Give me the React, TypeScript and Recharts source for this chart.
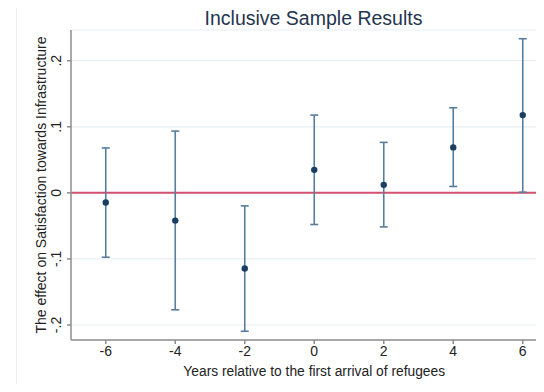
import { CartesianGrid, ComposedChart, ErrorBar, ReferenceLine, Scatter, XAxis, YAxis } from "recharts"

const years = [-6, -4, -2, 0, 2, 4, 6]
const estimates = [-0.0145, -0.042, -0.1145, 0.0348, 0.0121, 0.0688, 0.1177]
const lower = [-0.0974, -0.177, -0.2095, -0.0479, -0.0515, 0.0097, 0.001]
const upper = [0.068, 0.0935, -0.0197, 0.1177, 0.0764, 0.1288, 0.2333]

const xTicks = [-6, -4, -2, 0, 2, 4, 6]
const yTicks = [-0.2, -0.1, 0, 0.1, 0.2]

const data = years.map((year, i) => ({
  year,
  est: estimates[i],
  err: [estimates[i] - lower[i], upper[i] - estimates[i]],
}))

const font = "'Liberation Sans', Arial, sans-serif"
const axisGray = "#8c8c8c"

const fmtY = (v: number) => (v === 0 ? "0" : String(Math.round(v * 10) / 10).replace("0.", "."))

const YTick = ({ x, y, payload }: any) => (
  <text
    x={0}
    y={0}
    transform={`translate(${x - 4},${y}) rotate(-90)`}
    textAnchor="middle"
    fontSize={14}
    fontFamily={font}
    fill="#222"
  >
    {fmtY(payload.value)}
  </text>
)

const XTick = ({ x, y, payload }: any) => (
  <text x={x} y={y + 10} textAnchor="middle" fontSize={14} fontFamily={font} fill="#222">
    {payload.value}
  </text>
)

const Dot = ({ cx, cy }: any) => <circle cx={cx} cy={cy} r={3.2} fill="#1a3f63" />

export default function App() {
  return (
    <div style={{ position: "relative", width: 536, height: 376, overflow: "hidden", background: "#fff" }}>
      <div style={{ position: "absolute", left: 8, top: 0, width: 1, height: 376, background: "#efefef" }} />
      <div
        style={{
          position: "absolute",
          left: 0,
          top: -1,
          width: 611,
          textAlign: "center",
          fontFamily: font,
          fontSize: 19.5,
          lineHeight: "22px",
          color: "#1f3550",
        }}
      >
        Inclusive Sample Results
      </div>
      <ComposedChart width={560} height={376} data={data} margin={{ top: 22, right: 10.5, bottom: 0, left: 0 }}>
        <CartesianGrid horizontal vertical={false} stroke="#e8f0f3" strokeWidth={1.2} />
        <XAxis
          dataKey="year"
          type="number"
          domain={[-7, 7]}
          ticks={xTicks}
          height={44}
          tickSize={4}
          tickMargin={2}
          stroke={axisGray}
          strokeWidth={1.5}
          tick={<XTick />}
          label={{
            content: ({ viewBox }: any) => (
              <text
                x={viewBox.x + viewBox.width / 2}
                y={367.5}
                textAnchor="middle"
                fontSize={13.8}
                fontFamily={font}
                fill="#222"
              >
                Years relative to the first arrival of refugees
              </text>
            ),
          }}
        />
        <YAxis
          type="number"
          domain={[-0.2227, 0.2465]}
          allowDataOverflow
          ticks={yTicks}
          width={63}
          tickSize={4}
          tickMargin={2}
          stroke={axisGray}
          strokeWidth={1.5}
          tick={<YTick />}
          label={{
            content: ({ viewBox }: any) => (
              <text
                x={0}
                y={0}
                transform={`translate(37.5,${viewBox.y + viewBox.height / 2}) rotate(-90)`}
                textAnchor="middle"
                fontSize={14}
                fontFamily={font}
                fill="#222"
              >
                The effect on Satisfaction towards Infrastructure
              </text>
            ),
          }}
        />
        <ReferenceLine y={0} stroke="#d4506e" strokeWidth={2} />
        <Scatter dataKey="est" shape={<Dot />} isAnimationActive={false}>
          <ErrorBar dataKey="err" direction="y" width={4} stroke="#587d9e" strokeWidth={1.6} />
        </Scatter>
      </ComposedChart>
    </div>
  )
}
